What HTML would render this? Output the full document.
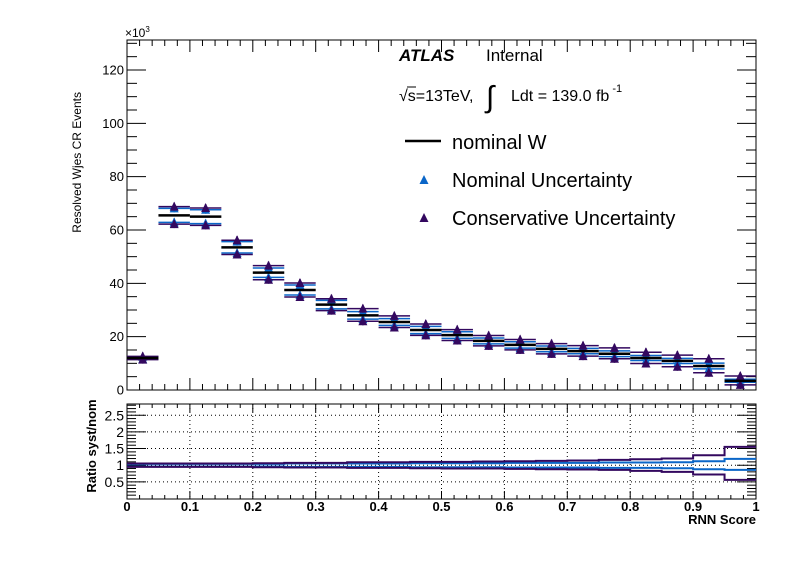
<!DOCTYPE html>
<html><head><meta charset="utf-8"><style>
body{margin:0;background:#fff;}
svg{display:block;font-family:"Liberation Sans",sans-serif;}
</style></head><body>
<svg id="c" width="796" height="572"></svg>
<script>
const binEdges=[0,0.05,0.1,0.15,0.2,0.25,0.3,0.35,0.4,0.45,0.5,0.55,0.6,0.65,0.7,0.75,0.8,0.85,0.9,0.95,1.0];
const nomVals=[12,65.5,65,53.5,44,37.5,32,28,25.5,22.5,20.6,18.4,16.9,15.4,14.6,13.6,12,10.9,9,3.4];
const blueUp=[1.04,1.04,1.04,1.04,1.04,1.05,1.05,1.05,1.05,1.06,1.06,1.06,1.07,1.07,1.07,1.08,1.08,1.09,1.12,1.19];
const blueDown=[0.96,0.96,0.96,0.96,0.96,0.95,0.95,0.95,0.95,0.94,0.94,0.94,0.93,0.93,0.93,0.92,0.92,0.91,0.88,0.86];
const purpUp=[1.05,1.05,1.05,1.05,1.06,1.07,1.07,1.09,1.09,1.10,1.10,1.11,1.12,1.13,1.14,1.16,1.18,1.20,1.30,1.55];
const purpDown=[0.95,0.95,0.95,0.95,0.94,0.93,0.93,0.92,0.92,0.91,0.90,0.90,0.89,0.88,0.87,0.86,0.83,0.80,0.72,0.56];
const xTicks=[0,0.1,0.2,0.3,0.4,0.5,0.6,0.7,0.8,0.9,1];
const xTickLabels=["0","0.1","0.2","0.3","0.4","0.5","0.6","0.7","0.8","0.9","1"];
const yTicks=[0,20,40,60,80,100,120];
const rTicks=[0.5,1,1.5,2,2.5];
const rTickLabels=["0.5","1","1.5","2","2.5"];

const svg=document.getElementById('c');
const NS='http://www.w3.org/2000/svg';
function mk(t,a,p){const e=document.createElementNS(NS,t);for(const k in a)e.setAttribute(k,a[k]);(p||svg).appendChild(e);return e;}
const X0=127,X1=756;
const x=v=>X0+v*(X1-X0);
const yT=v=>390-v*(320/120);
const yR=v=>498.5-v*33.3;
const BLUE='#0a66c8',PURP='#33085f';

let f=mk('rect',{x:X0,y:40,width:X1-X0,height:350,fill:'none',stroke:'#000','stroke-width':1});

f=mk('rect',{x:X0,y:404,width:X1-X0,height:95,fill:'none',stroke:'#000','stroke-width':1});


const grid=mk('g',{stroke:'#000','stroke-width':1,'stroke-dasharray':'1,3'});

xTicks.slice(1,-1).forEach(v=>mk('line',{x1:x(v),x2:x(v),y1:404,y2:499},grid));
rTicks.forEach(v=>mk('line',{x1:X0,x2:X1,y1:yR(v),y2:yR(v)},grid));

const ticks=mk('g',{stroke:'#000','stroke-width':1});

for(let i=0;i<=50;i++){const v=i/50;const L=(i%5==0)?12:6;
  mk('line',{x1:x(v),x2:x(v),y1:390,y2:390-L},ticks);mk('line',{x1:x(v),x2:x(v),y1:40,y2:40+L},ticks);
  const L2=(i%5==0)?8:4;
  mk('line',{x1:x(v),x2:x(v),y1:499,y2:499-L2},ticks);mk('line',{x1:x(v),x2:x(v),y1:404,y2:404+L2},ticks);}
for(let v=0;v<=130;v+=5){const L=(v%20==0)?19:10;mk('line',{x1:X0,x2:X0+L,y1:yT(v),y2:yT(v)},ticks);mk('line',{x1:X1,x2:X1-L,y1:yT(v),y2:yT(v)},ticks);}
for(let v=0.1;v<2.84;v+=0.1){const r=Math.round(v*10);const L=(r%5==0)?19:9;mk('line',{x1:X0,x2:X0+L,y1:yR(v),y2:yR(v)},ticks);mk('line',{x1:X1,x2:X1-L,y1:yR(v),y2:yR(v)},ticks);}

yTicks.forEach(v=>{const t=mk('text',{x:X0-3,y:yT(v)+4.5,'text-anchor':'end','font-size':13});t.textContent=v;
 });
rTickLabels.forEach((s,i)=>{const t=mk('text',{x:X0-3,y:yR(rTicks[i])+5,'text-anchor':'end','font-size':14});t.textContent=s;
 });
xTickLabels.forEach((s,i)=>{const t=mk('text',{x:x(xTicks[i]),y:511,'text-anchor':'middle','font-size':13,'font-weight':'bold'});t.textContent=s;
 });
let t=mk('text',{x:125,y:37,'font-size':12});t.innerHTML='×10<tspan dy="-5" font-size="8">3</tspan>';

t=mk('text',{x:0,y:0,'font-size':12,'text-anchor':'end',transform:'translate(81,92) rotate(-90)'});t.textContent='Resolved Wjes CR Events';

t=mk('text',{x:0,y:0,'font-size':13,'font-weight':'bold','text-anchor':'middle',transform:'translate(96,446) rotate(-90)'});t.textContent='Ratio syst/nom';

t=mk('text',{x:756,y:524,'font-size':13,'font-weight':'bold','text-anchor':'end'});t.textContent='RNN Score';


function tri(cx,cy,col,p){const e=mk('polygon',{points:`${cx},${cy-5} ${cx-4.5},${cy+4} ${cx+4.5},${cy+4}`,fill:col},p);return e;}
const series=[[blueUp,blueDown,BLUE,'nominal-uncertainty'],[purpUp,purpDown,PURP,'conservative-uncertainty']];
series.forEach(([up,dn,col,name])=>{
  const g=mk('g',{});
  nomVals.forEach((n,i)=>{const a=x(binEdges[i]),b=x(binEdges[i+1]),c=(a+b)/2;
    [up[i],dn[i]].forEach(r=>{const yy=yT(n*r);
      const l=mk('line',{x1:a,x2:b,y1:yy,y2:yy,stroke:col,'stroke-width':1.5},g);
      
      mk('line',{x1:c,x2:c,y1:yy-4,y2:yy+4,stroke:col,'stroke-width':1.5},g);
      const m=tri(c,yy,col,g);});});
});
const gn=mk('g',{});
nomVals.forEach((n,i)=>{const l=mk('line',{x1:x(binEdges[i]),x2:x(binEdges[i+1]),y1:yT(n),y2:yT(n),stroke:'#000','stroke-width':2.5},gn);
  });

function step(arr,col,name,w){let d='';arr.forEach((r,i)=>{const a=x(binEdges[i]),b=x(binEdges[i+1]);d+=(i?'L':'M')+a+','+yR(r)+'L'+b+','+yR(r);});
  const p=mk('path',{d:d,fill:'none',stroke:col,'stroke-width':w});}
step(blueUp,BLUE,'ratio-nominal-up',2);step(blueDown,BLUE,'ratio-nominal-down',2);
step(purpUp,PURP,'ratio-conservative-up',2);step(purpDown,PURP,'ratio-conservative-down',2);

t=mk('text',{x:399,y:61,'font-size':17,'font-weight':'bold','font-style':'italic'});t.textContent='ATLAS';

t=mk('text',{x:486,y:61,'font-size':17});t.textContent='Internal';

t=mk('text',{x:399,y:101,'font-size':16});t.innerHTML='√s=13TeV,';

mk('line',{x1:407,x2:416,y1:87,y2:87,stroke:'#000'});
t=mk('text',{x:486,y:107,'font-size':30});t.textContent='∫';

t=mk('text',{x:511,y:101,'font-size':16});t.innerHTML='Ldt = 139.0 fb<tspan dy="-9" font-size="11"> -1</tspan>';

const lg=mk('g',{});
mk('line',{x1:405,x2:441,y1:141,y2:141,stroke:'#000','stroke-width':2.5},lg);
t=mk('text',{x:452,y:149,'font-size':20},lg);t.textContent='nominal W';

tri(424,180,BLUE,lg);
t=mk('text',{x:452,y:187,'font-size':20},lg);t.textContent='Nominal Uncertainty';

tri(424,218,PURP,lg);
t=mk('text',{x:452,y:225,'font-size':20},lg);t.textContent='Conservative Uncertainty';

</script>
</body></html>
